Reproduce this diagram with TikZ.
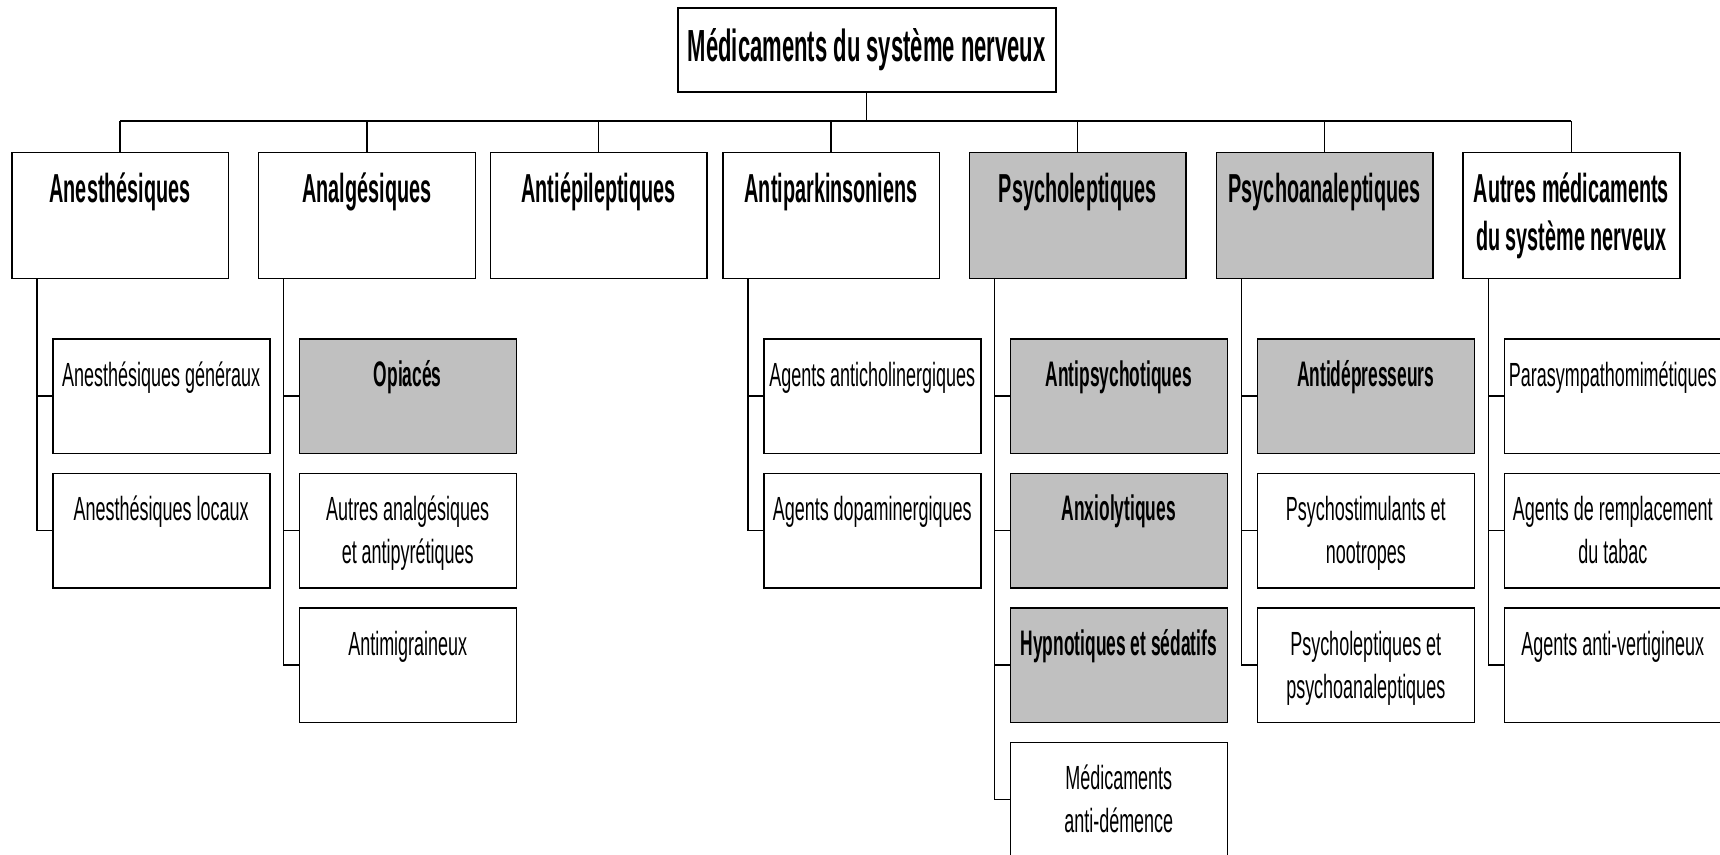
\documentclass[tikz,border=0pt]{standalone}
\usepackage{fontspec}
\setmainfont{Liberation Sans}[FakeStretch=0.537]
\newfontfamily\bnarrow{Liberation Sans}[FakeStretch=0.49]
\definecolor{hlgray}{HTML}{C0C0C0}
\newcommand\onebox[1]{\parbox[t][126pt][t]{216.7pt}{\centering\rule{0pt}{50pt}#1}}
\newcommand\twobox[1]{\parbox[t][114.5pt][t]{217pt}{\centering\rule{0pt}{47.7pt}#1}}
\tikzset{
  titlebox/.style={draw, line width=1.5pt, minimum width=378pt, minimum height=84pt, inner sep=0pt, anchor=north west, font=\fontsize{45}{52}\bnarrow\bfseries},
  lvlone/.style={draw, line width=1.5pt, inner sep=0pt, anchor=north west, font=\fontsize{40.5}{48}\bnarrow\bfseries},
  lvltwo/.style={draw, line width=1.5pt, inner sep=0pt, anchor=north west, font=\fontsize{33.5}{43}\selectfont},
  hl/.style={fill=hlgray},
  bb/.style={font=\fontsize{35.5}{43}\bnarrow\bfseries},
  conn/.style={line width=1.3pt},
  busline/.style={line width=2.5pt},
}
\begin{document}
\begin{tikzpicture}[x=1pt,y=-1pt]
\useasboundingbox (0,0) rectangle (1720,854);
% title
\node[titlebox] (t) at (677,7) {Médicaments du système nerveux};
% level 1
\node[lvlone] (b1) at (11,151.7) {\onebox{Anesthésiques}};
\node[lvlone] (b2) at (257.8,151.7) {\onebox{Analgésiques}};
\node[lvlone] (b3) at (489.5,151.7) {\onebox{Antiépileptiques}};
\node[lvlone] (b4) at (722,151.7) {\onebox{Antiparkinsoniens}};
\node[lvlone,hl] (b5) at (968.6,151.7) {\onebox{Psycholeptiques}};
\node[lvlone,hl] (b6) at (1215.5,151.7) {\onebox{Psychoanaleptiques}};
\node[lvlone] (b7) at (1462.3,151.7) {\onebox{Autres médicaments\\du système nerveux}};
% level 2
\node[lvltwo] (c11) at (52,338) {\twobox{Anesthésiques généraux}};
\node[lvltwo] (c12) at (52,472.5) {\twobox{Anesthésiques locaux}};
\node[lvltwo,hl,bb] (c21) at (298.5,338) {\twobox{Opiacés}};
\node[lvltwo] (c22) at (298.5,472.5) {\twobox{Autres analgésiques\\et antipyrétiques}};
\node[lvltwo] (c23) at (298.5,607) {\twobox{Antimigraineux}};
\node[lvltwo] (c41) at (763,338) {\twobox{Agents anticholinergiques}};
\node[lvltwo] (c42) at (763,472.5) {\twobox{Agents dopaminergiques}};
\node[lvltwo,hl,bb] (c51) at (1009.5,338) {\twobox{Antipsychotiques}};
\node[lvltwo,hl,bb] (c52) at (1009.5,472.5) {\twobox{Anxiolytiques}};
\node[lvltwo,hl,bb] (c53) at (1009.5,607) {\twobox{Hypnotiques et sédatifs}};
\node[lvltwo] (c54) at (1009.5,741.5) {\twobox{Médicaments\\anti-démence}};
\node[lvltwo,hl,bb] (c61) at (1256.5,338) {\twobox{Antidépresseurs}};
\node[lvltwo] (c62) at (1256.5,472.5) {\twobox{Psychostimulants et\\nootropes}};
\node[lvltwo] (c63) at (1256.5,607) {\twobox{Psycholeptiques et\\psychoanaleptiques}};
\node[lvltwo] (c71) at (1503.5,338) {\twobox{Parasympathomimétiques}};
\node[lvltwo] (c72) at (1503.5,472.5) {\twobox{Agents de remplacement\\du tabac}};
\node[lvltwo] (c73) at (1503.5,607) {\twobox{Agents anti-vertigineux}};
% connectors top
\coordinate (bus) at (0,121);
\draw[conn] (t.south) -- (t.south |- bus);
\draw[busline] (b1.north |- bus) -- (b7.north |- bus);
\foreach \i in {1,...,7} { \draw[conn] (b\i.north) -- (b\i.north |- bus); }
% connectors to children
\foreach \p/\cs in {1/{11,12},2/{21,22,23},4/{41,42},5/{51,52,53,54},6/{61,62,63},7/{71,72,73}} {
  \foreach \c in \cs {
    \draw[conn] ([xshift=26pt]b\p.south west) |- (c\c.west);
  }
}
\end{tikzpicture}
\end{document}
